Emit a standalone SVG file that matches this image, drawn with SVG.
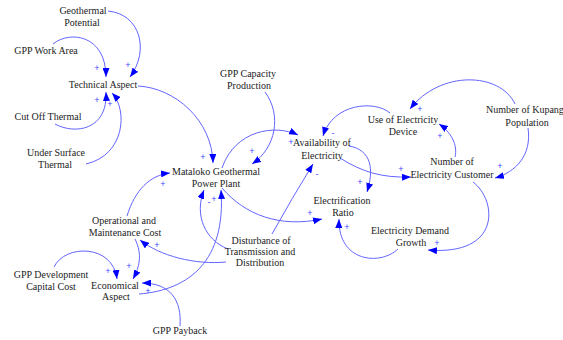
<svg xmlns="http://www.w3.org/2000/svg" width="563" height="340" viewBox="0 0 563 340">
<style>
.n{font-family:"Liberation Serif","Times New Roman","DejaVu Serif",serif;font-size:10px;fill:#222;text-anchor:middle}
.c{fill:none;stroke:#6464ff;stroke-width:1;marker-end:url(#ah)}
.s{font-family:"Liberation Sans",Arial,sans-serif;font-size:9px;fill:#4848ff;text-anchor:middle}
</style>
<defs>
<marker id="ah" markerUnits="userSpaceOnUse" markerWidth="9" markerHeight="7" viewBox="0 0 9 7" refX="9" refY="3.5" orient="auto">
<path d="M0,0 L9,3.5 L0,7 z" fill="#0000ff"/>
</marker>
</defs>
<rect width="563" height="340" fill="#fff"/>
<g id="connectors">
<path class="c" d="M108,11 C140,14 150,50 130,77"/><text class="s" x="128" y="68">+</text>
<path class="c" d="M53,44 C70,30 106,35 106,77"/><text class="s" x="97" y="71">+</text>
<path class="c" d="M55,124 C75,135 108,130 106,92"/><text class="s" x="97" y="103">+</text>
<path class="c" d="M86,164 C125,155 128,110 112,93"/><text class="s" x="110" y="107">+</text>
<path class="c" d="M138,86 C175,88 212,120 213,163"/><text class="s" x="203" y="160">+</text>
<path class="c" d="M265,92 C282,115 276,148 252,164"/><text class="s" x="252" y="154">+</text>
<path class="c" d="M222,168 C235,130 275,124 298,135"/><text class="s" x="291" y="145">+</text>
<path class="c" d="M222,188 C245,215 280,228 322,219"/><text class="s" x="310" y="216">+</text>
<path class="c" d="M390,113 C375,100 333,103 323,136"/><text class="s" x="333" y="136">-</text>
<path class="c" d="M340,158 C362,172 382,178 411,177"/><text class="s" x="401" y="172">+</text>
<path class="c" d="M349,146 C372,150 374,170 367,192"/><text class="s" x="360" y="185">+</text>
<path class="c" d="M455,157 C458,145 451,132 439,124"/><text class="s" x="440" y="139">+</text>
<path class="c" d="M515,104 C500,72 440,70 410,109"/><text class="s" x="420" y="112">+</text>
<path class="c" d="M528,128 C532,155 516,172 495,178"/><text class="s" x="500" y="169">+</text>
<path class="c" d="M473,182 C497,200 502,256 428,250"/><text class="s" x="437" y="246">+</text>
<path class="c" d="M398,249 C380,266 338,262 339,219"/><text class="s" x="347" y="230">+</text>
<path class="c" d="M272,234 Q292,198 313,164"/><text class="s" x="317" y="177">-</text>
<path class="c" d="M228,249 C205,240 194,215 204,190"/><text class="s" x="209" y="205">-</text>
<path class="c" d="M226,262 C195,265 160,256 140,240"/><text class="s" x="157" y="248">+</text>
<path class="c" d="M139,294 C190,290 226,260 221,190"/><text class="s" x="214" y="202">+</text>
<path class="c" d="M127,216 C135,190 150,175 170,173"/><text class="s" x="163" y="187">+</text>
<path class="c" d="M135,239 C143,255 139,268 133,279"/><text class="s" x="129" y="269">+</text>
<path class="c" d="M54,267 C65,244 113,244 117,279"/><text class="s" x="108" y="274">+</text>
<path class="c" d="M180,326 C182,300 170,283 142,283"/><text class="s" x="148" y="294">+</text>
</g>
<g id="geothermal-potential"><text class="n" x="83" y="14">Geothermal</text><text class="n" x="82" y="26">Potential</text></g>
<g id="gpp-work-area"><text class="n" x="46" y="54">GPP Work Area</text></g>
<g id="technical-aspect"><text class="n" x="103" y="88">Technical Aspect</text></g>
<g id="cut-off-thermal"><text class="n" x="48" y="120">Cut Off Thermal</text></g>
<g id="under-surface-thermal"><text class="n" x="56" y="156">Under Surface</text><text class="n" x="55" y="168">Thermal</text></g>
<g id="gpp-capacity-production"><text class="n" x="248" y="77">GPP Capacity</text><text class="n" x="249" y="89">Production</text></g>
<g id="mataloko"><text class="n" x="216" y="175">Mataloko Geothermal</text><text class="n" x="216" y="187">Power Plant</text></g>
<g id="availability"><text class="n" x="322" y="146">Availability of</text><text class="n" x="322" y="159">Electricity</text></g>
<g id="electrification-ratio"><text class="n" x="342" y="204">Electrification</text><text class="n" x="343" y="216">Ratio</text></g>
<g id="use-of-electricity-device"><text class="n" x="403" y="123">Use of Electricity</text><text class="n" x="403" y="135">Device</text></g>
<g id="kupang-population"><text class="n" x="525" y="113">Number of Kupang</text><text class="n" x="527" y="126">Population</text></g>
<g id="electricity-customer"><text class="n" x="452" y="165">Number of</text><text class="n" x="452" y="178">Electricity Customer</text></g>
<g id="demand-growth"><text class="n" x="410" y="234">Electricity Demand</text><text class="n" x="411" y="246">Growth</text></g>
<g id="disturbance"><text class="n" x="261" y="244">Disturbance of</text><text class="n" x="260" y="255">Transmission and</text><text class="n" x="260" y="266">Distribution</text></g>
<g id="om-cost"><text class="n" x="124" y="224">Operational and</text><text class="n" x="125" y="236">Maintenance Cost</text></g>
<g id="gpp-development"><text class="n" x="51" y="278">GPP Development</text><text class="n" x="51" y="290">Capital Cost</text></g>
<g id="economical-aspect"><text class="n" x="115" y="289">Economical</text><text class="n" x="116" y="300">Aspect</text></g>
<g id="gpp-payback"><text class="n" x="180" y="334">GPP Payback</text></g>
</svg>
